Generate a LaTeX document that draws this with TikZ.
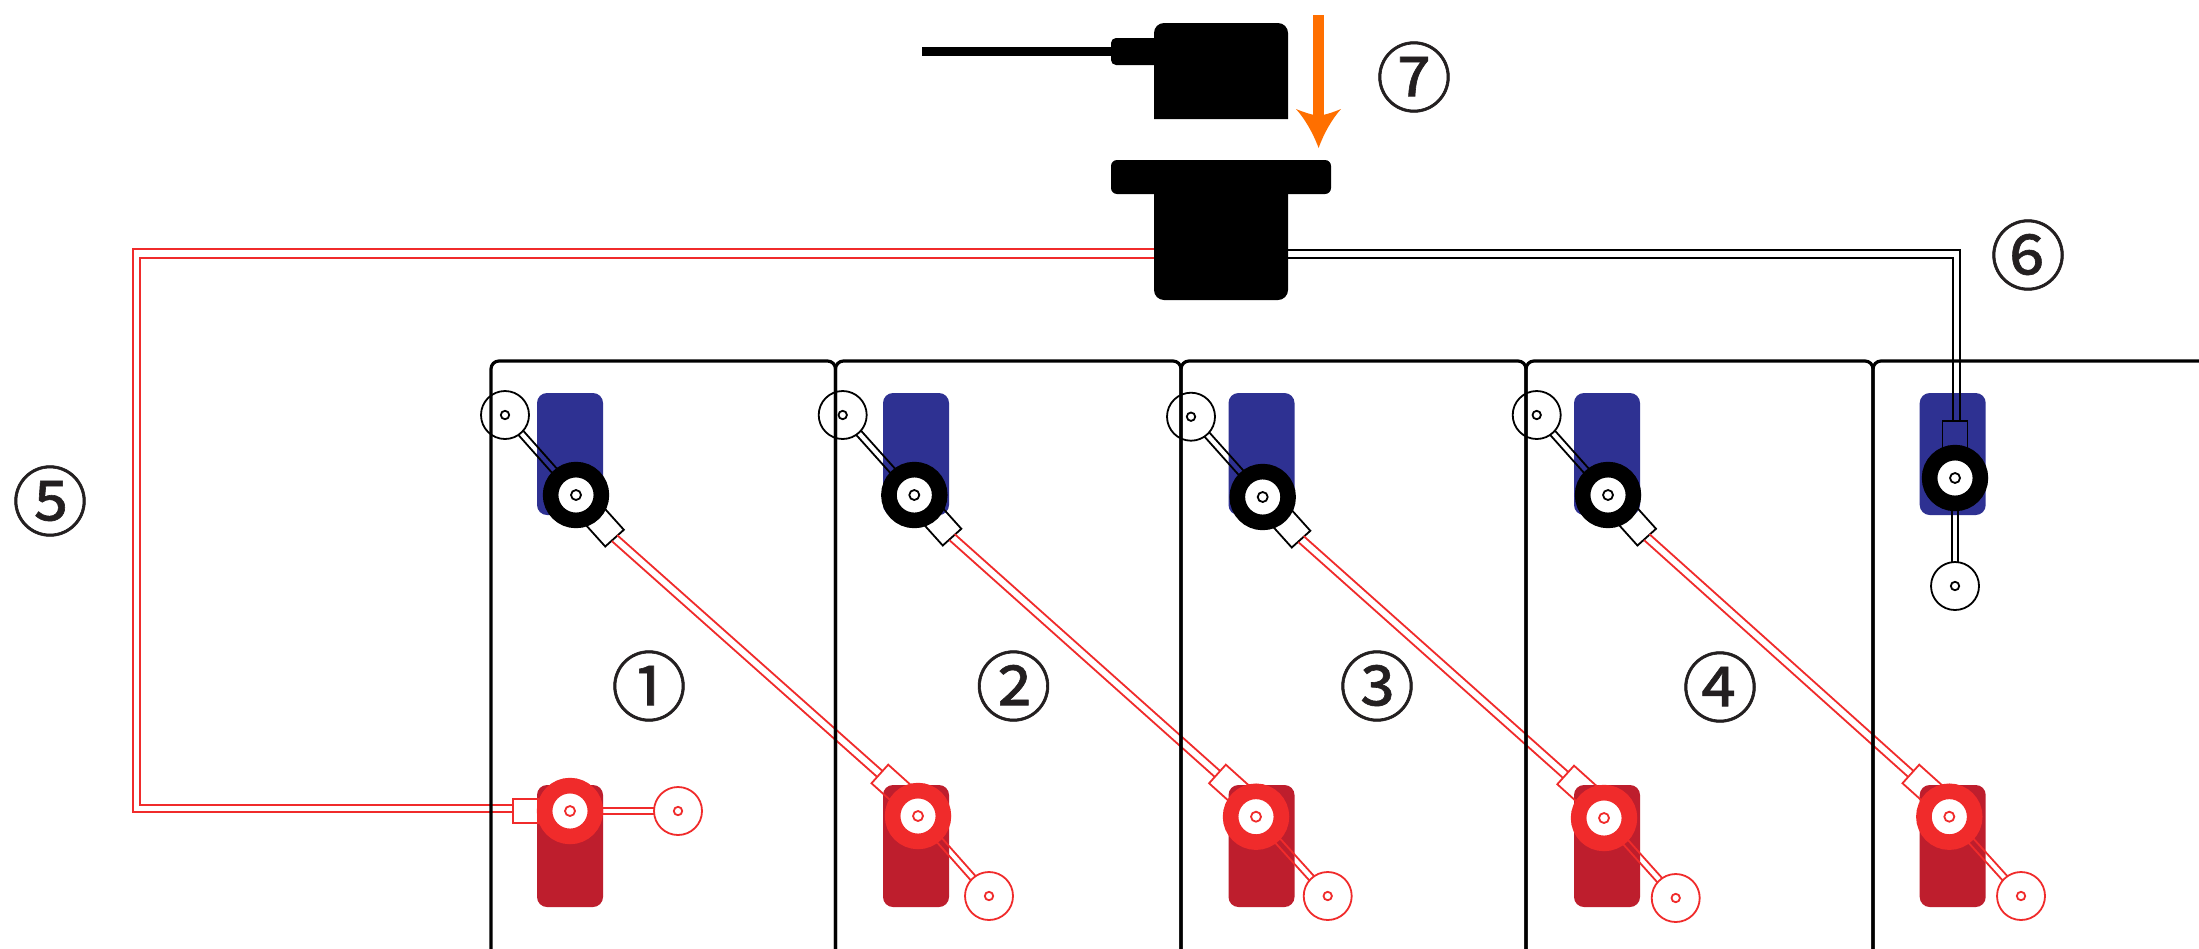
\documentclass[tikz,border=0pt]{standalone}
\usepackage{fontspec}
\usetikzlibrary{calc}
\newfontfamily\numfont[FakeBold=0.8]{Noto Sans CJK SC}
\definecolor{barblue}{HTML}{2E3192}
\definecolor{barred}{HTML}{BE1E2D}
\definecolor{wirered}{HTML}{F02B2B}
\definecolor{arroworange}{HTML}{FF6F00}
\definecolor{numdark}{HTML}{231F20}
\tikzset{
  batt/.style={draw=black,line width=1.6pt,rounded corners=4pt},
  bar/.style={rectangle,rounded corners=5pt,minimum width=33pt,minimum height=61pt,inner sep=0pt},
  ring/.style={circle,draw,fill=white,line width=7.8pt,minimum size=25.4pt,inner sep=0pt},
  hole/.style={circle,draw,line width=0.9pt,minimum size=5pt,inner sep=0pt},
  lug/.style={circle,draw,line width=0.9pt,minimum size=24pt,inner sep=0pt,outer sep=0pt},
  lughole/.style={circle,draw,line width=0.9pt,minimum size=4.2pt,inner sep=0pt},
  plugbox/.style={rectangle,draw,line width=0.9pt,minimum width=15pt,minimum height=12.5pt,inner sep=0pt,outer sep=0pt},
  wire/.style={line width=0.9pt},
  numeral/.style={font=\numfont\fontsize{38}{42}\selectfont,text=numdark,inner sep=0pt}
}
% two parallel lines, half spacing in #2
\newcommand{\twin}[4]{
  \draw [wire,#1] ($(#3)!#2!90:(#4)$) -- ($(#4)!#2!-90:(#3)$);
  \draw [wire,#1] ($(#3)!#2!-90:(#4)$) -- ($(#4)!#2!90:(#3)$);
}
\begin{document}
\begin{tikzpicture}[x=0.5pt,y=-0.5pt]
\clip (0,0) rectangle (2199,948);
\fill [white] (0,0) rectangle (2199,948);

% bars
\foreach \i/\x in {1/570,2/916,3/1261.5,4/1607,5/1952.7} {
  \node (neg\i) [bar,fill=barblue] at (\x,454) {};
  \node (pos\i) [bar,fill=barred] at (\x,846) {};
}

% plug and socket
\draw [line width=4.5pt] (922,51.5) -- (1111,51.5);
\fill [rounded corners=2.5pt] (1111,38) rectangle (1160,65);
\fill (1154,119) [rounded corners=5pt] -- (1154,23) -- (1288,23) [sharp corners] -- (1288,119) -- cycle;
\fill [rounded corners=3pt] (1111,160) rectangle (1331,194);
\fill [rounded corners=5pt] (1154,180) rectangle (1288,300);
\coordinate (arrowtop) at (1318.6,15);
\coordinate (arrowneck) at (1318.6,120);
\coordinate (arrowtip) at (1318.6,148);
\draw [arroworange,line width=5.3pt] (arrowtop) -- (arrowneck);
\fill [arroworange] (arrowtip) .. controls (1324,133) and (1332,119) .. (1341,109) .. controls (1334,112) and (1328,114) .. (1318.6,116) .. controls (1309,114) and (1303,112) .. (1296,109) .. controls (1305,119) and (1313,133) .. (arrowtip);

% connector boxes
\node (inblack) [plugbox,rotate=-90] at (1955,436) {};
\node (in1) [plugbox,draw=wirered,minimum width=12.5pt,minimum height=12pt] at (525.5,811) {};
\foreach \i/\x/\y in {1/604.5/527,2/942/526,3/1291/528,4/1636.7/526}
  \node (out\i) [plugbox,rotate=-48] at (\x,\y) {};
\foreach \i/\x/\y in {2/891/784,3/1228.6/784,4/1576.8/785,5/1922/784}
  \node (in\i) [plugbox,draw=wirered,rotate=-42] at (\x,\y) {};

% series links
\foreach \a/\b in {1/2,2/3,3/4,4/5}
  \twin{wirered}{2pt}{out\a.east}{in\b.west};

% red lead to the plug
\coordinate (ra) at (1154,249);
\coordinate (rb) at (133,249);
\coordinate (rc) at (133,812.3);
\coordinate (rd) at (1154,258);
\coordinate (re) at (140,258);
\coordinate (rf) at (140,805);
\draw [wire,wirered] (ra) -- (rb) -- (rc) -- (rc -| in1.west);
\draw [wire,wirered] (rd) -- (re) -- (rf) -- (rf -| in1.west);

% black lead to the plug
\coordinate (ka) at (1288,250);
\coordinate (kb) at (1960,250);
\coordinate (kc) at (1288,258);
\coordinate (kd) at (1952.7,258);
\draw [wire] (ka) -- (kb) -- (kb |- inblack.west);
\draw [wire] (kc) -- (kd) -- (kd |- inblack.west);

% negative side
\foreach \i/\rx/\ry/\lx/\ly in {1/576/495/505/415,2/914.3/495/842.7/415,3/1262.7/497/1191/416.7,4/1608/495/1536.7/415,5/1955/478/1955/586} {
  \node (nlug\i) [lug] at (\lx,\ly) {};
  \node (nlughole\i) [lughole] at (\lx,\ly) {};
  \coordinate (nring\i) at (\rx,\ry);
  \coordinate (ntab\i) at ($(nlug\i)!11.8pt!(nring\i)$);
  \twin{}{1.6pt}{ntab\i}{nring\i}
  \node (nterm\i) [ring] at (\rx,\ry) {};
  \node (nhole\i) [hole] at (\rx,\ry) {};
}

% positive side
\foreach \i/\rx/\ry/\lx/\ly in {1/570/811/678/811,2/918/816/989/896,3/1256/816.7/1327.7/896,4/1604/818/1675.7/898,5/1949.3/816.7/2021/896} {
  \node (plug\i) [lug,draw=wirered] at (\lx,\ly) {};
  \node (plughole\i) [lughole,draw=wirered] at (\lx,\ly) {};
  \coordinate (pring\i) at (\rx,\ry);
  \coordinate (ptab\i) at ($(plug\i)!11.8pt!(pring\i)$);
  \twin{wirered}{1.6pt}{ptab\i}{pring\i}
  \node (pterm\i) [ring,draw=wirered] at (\rx,\ry) {};
  \node (phole\i) [hole,draw=wirered] at (\rx,\ry) {};
}

% battery cases
\foreach \a/\b in {491/835.5,835.5/1181,1181/1526,1526/1873,1873/2240}
  \draw [batt] (\a,975) -- (\a,361) -- (\b,361) -- (\b,975);

% numbers
\node (n1) [numeral] at (649,686) {①};
\node (n2) [numeral] at (1013.5,686) {②};
\node (n3) [numeral] at (1377,686) {③};
\node (n4) [numeral] at (1720,687) {④};
\node (n5) [numeral] at (50,501) {⑤};
\node (n6) [numeral] at (2028,255) {⑥};
\node (n7) [numeral] at (1414,77) {⑦};
\end{tikzpicture}
\end{document}
